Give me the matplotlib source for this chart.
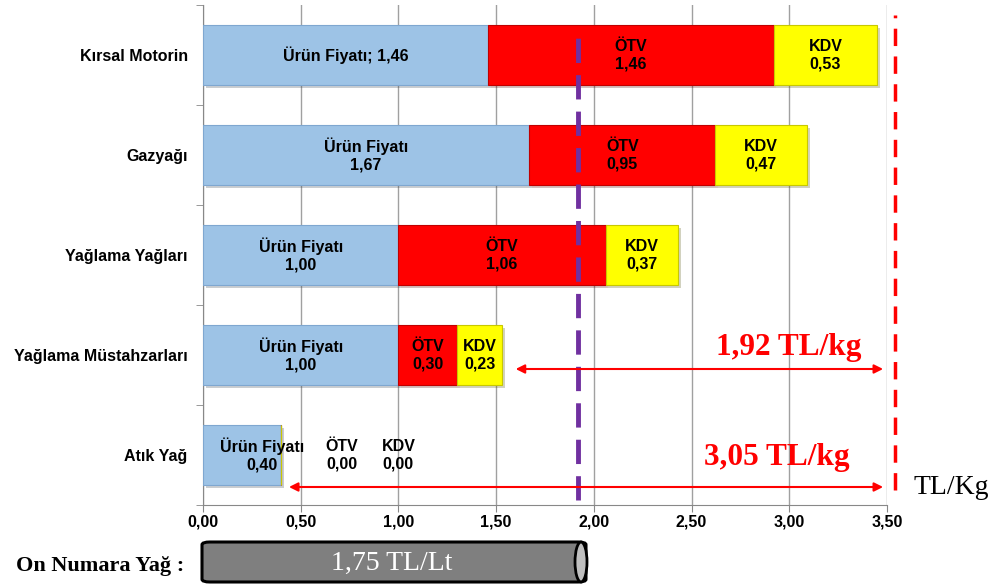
import matplotlib
matplotlib.use("Agg")
import matplotlib.pyplot as plt
import matplotlib.patheffects as pe
from matplotlib.patches import FancyBboxPatch, Ellipse

# data
categories = ["Kırsal Motorin", "Gazyağı", "Yağlama Yağları",
              "Yağlama Müstahzarları", "Atık Yağ"]
urun = [1.46, 1.67, 1.00, 1.00, 0.40]
otv = [1.46, 0.95, 1.06, 0.30, 0.00]
kdv = [0.53, 0.47, 0.37, 0.23, 0.00]
xticks = [0.0, 0.5, 1.0, 1.5, 2.0, 2.5, 3.0, 3.5]
ref_purple = 1.92
ref_red = 3.54
arrow_1 = (1.60, 3.48)
arrow_2 = (0.44, 3.48)

sans = "Liberation Sans"
serif = "Liberation Serif"

fig = plt.figure(figsize=(9.92, 5.84), dpi=100)
ax = fig.add_axes([203 / 992, 1 - 505 / 584, 684 / 992, 500 / 584])

ypos = [4, 3, 2, 1, 0]
h = 0.6
shadow = [pe.SimplePatchShadow(offset=(2, -2), alpha=0.25), pe.Normal()]

left_otv = urun
left_kdv = [u + o for u, o in zip(urun, otv)]

b1 = ax.barh(ypos, urun, height=h, color="#9DC3E6", edgecolor="#7FA7D0", linewidth=0.8, zorder=3)
b2 = ax.barh(ypos, otv, left=left_otv, height=h, color="#FF0000", edgecolor="#C00000", linewidth=0.8, zorder=3)
b3 = ax.barh(ypos, kdv, left=left_kdv, height=h, color="#FFFF00", edgecolor="#C8C800", linewidth=0.8, zorder=3)
for bars in (b1, b2, b3):
    for r in bars:
        if r.get_width() > 0:
            r.set_path_effects(shadow)

fmt = lambda v: ("%.2f" % v).replace(".", ",")
lab_kw = dict(ha="center", va="center", fontsize=11.5, fontweight="bold",
              family=sans, zorder=5, linespacing=1.2)

for i, y in enumerate(ypos):
    cu = urun[i] / 2
    co = left_otv[i] + otv[i] / 2
    ck = left_kdv[i] + kdv[i] / 2
    if i == 0:
        ax.text(cu, y, "Ürün Fiyatı; " + fmt(urun[i]), **lab_kw)
    else:
        if urun[i] < 0.5:
            cu = 0.30
        ax.text(cu, y, "Ürün Fiyatı\n" + fmt(urun[i]), **lab_kw)
    if otv[i] == 0:
        co, ck = 0.71, 1.00
    ax.text(co, y, "ÖTV\n" + fmt(otv[i]), **lab_kw)
    ax.text(ck, y, "KDV\n" + fmt(kdv[i]), **lab_kw)

ax.set_xlim(0, 3.5)
ax.set_ylim(-0.5, 4.5)
ax.set_xticks(xticks)
ax.set_xticklabels([fmt(v) for v in xticks], fontsize=11.5, fontweight="bold", family=sans)
ax.set_yticks(ypos)
ax.set_yticklabels(categories, fontsize=11.5, fontweight="bold", family=sans)
ax.set_yticks([-0.5, 0.5, 1.5, 2.5, 3.5, 4.5], minor=True)
ax.tick_params(axis="y", which="major", length=0, pad=11)
ax.tick_params(axis="y", which="minor", length=5, color="#888888", direction="out")
ax.tick_params(axis="x", length=5, color="#888888", direction="out", pad=2)
ax.grid(axis="x", color="#A0A0A0", linewidth=1, zorder=0)
ax.set_axisbelow(True)
for s in ("top", "right"):
    ax.spines[s].set_visible(False)
for s in ("left", "bottom"):
    ax.spines[s].set_color("#888888")

# reference lines
ax.plot([ref_purple, ref_purple], [-0.45, 4.2], color="#7030A0", lw=3.5,
        dashes=(5, 2.5), zorder=6)
ax.plot([ref_red, ref_red], [-0.35, 4.4], color="#FF0000", lw=2.5,
        dashes=(5, 3), zorder=6, clip_on=False)

# arrows
ap = dict(arrowstyle="<|-|>", color="#FF0000", lw=1.5, mutation_scale=13, shrinkA=0, shrinkB=0)
ax.annotate("", xy=(arrow_1[1], 0.86), xytext=(arrow_1[0], 0.86), arrowprops=ap, zorder=7)
ax.annotate("", xy=(arrow_2[1], -0.32), xytext=(arrow_2[0], -0.32), arrowprops=ap, zorder=7,
            annotation_clip=False)
ax.text(3.37, 1.08, "1,92 TL/kg", ha="right", va="center", color="#FF0000",
        fontsize=22.5, fontweight="bold", family=serif, zorder=7)
ax.text(3.31, -0.03, "3,05 TL/kg", ha="right", va="center", color="#FF0000",
        fontsize=22.5, fontweight="bold", family=serif, zorder=7)

fig.text(951 / 992, 1 - 487 / 584, "TL/Kg", ha="center", va="center",
         fontsize=20, family=serif, color="black")

# bottom cylinder
cx0, cx1 = 202 / 992, 586 / 992
cy0, cy1 = 1 - 582 / 584, 1 - 542 / 584
cyl = FancyBboxPatch((cx0, cy0), cx1 - cx0, cy1 - cy0,
                     boxstyle="round,pad=0,rounding_size=0.008",
                     transform=fig.transFigure, facecolor="#7F7F7F",
                     edgecolor="black", linewidth=2.2, mutation_aspect=584 / 992)
fig.add_artist(cyl)
fig.add_artist(Ellipse((cx1 - 5 / 992, (cy0 + cy1) / 2), 12 / 992, cy1 - cy0,
                       transform=fig.transFigure, facecolor="#BFBFBF",
                       edgecolor="black", linewidth=2))
fig.text(392 / 992, 1 - 563 / 584, "1,75 TL/Lt", ha="center", va="center",
         fontsize=20, family=serif, color="white")
fig.text(184 / 992, 1 - 566 / 584, "On Numara Yağ :", ha="right", va="center",
         fontsize=16, fontweight="bold", family=serif, color="black")

fig.savefig("out.png", dpi=100)
